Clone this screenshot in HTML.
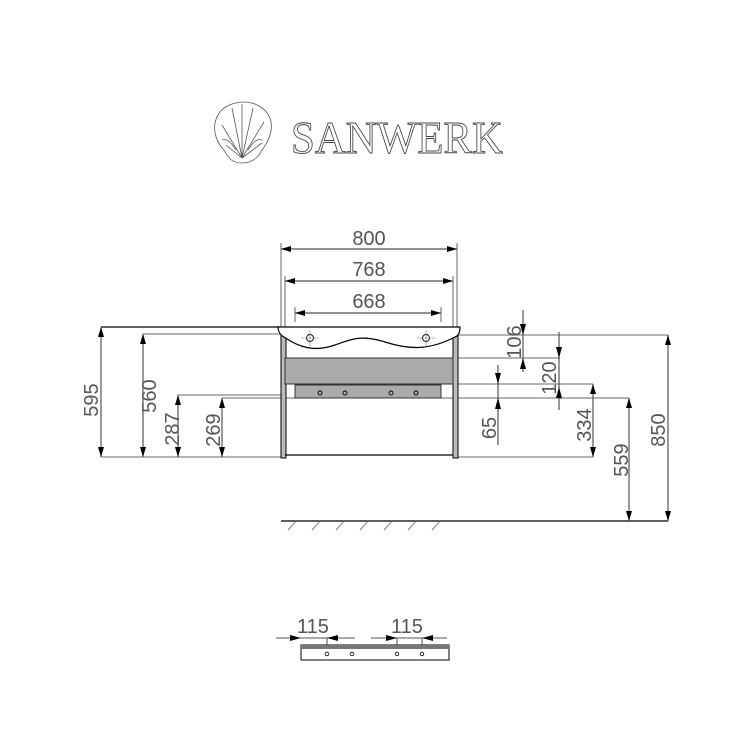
<!DOCTYPE html>
<html><head><style>body{margin:0;background:#fff}svg{display:block}</style></head><body>
<svg width="750" height="750" viewBox="0 0 750 750" xmlns="http://www.w3.org/2000/svg" font-family="Liberation Sans, sans-serif">
<defs>
<marker id="a" viewBox="0 0 10 6" refX="10" refY="3" markerWidth="10" markerHeight="6" orient="auto-start-reverse" markerUnits="userSpaceOnUse"><path d="M0,0 L10,3 L0,6z" fill="#000"/></marker>
</defs>
<!-- logo -->
<g fill="none" stroke="#555" stroke-width="0.8">
<path d="M242,163 C232,163 228,158 224,150 C214,140 212,125 218,115 C224,104 238,102 244,102 C252,102 265,106 270,118 C274,130 268,142 262,150 C258,158 252,163 242,163z"/>
<path d="M242,158 L226,145 M242,158 L222,125 M242,158 L232,108 M242,158 L242,104 M242,158 L253,108 M242,158 L264,122 M242,158 L262,143"/>
<path d="M222,140 C228,138 232,144 236,150 M262,140 C256,138 252,144 248,150"/>
</g>
<text x="291" y="153" font-family="Liberation Serif, serif" font-size="46" fill="#fff" stroke="#444" stroke-width="0.9" textLength="212" lengthAdjust="spacingAndGlyphs">SANWERK</text>

<g stroke="#888" stroke-width="1.3" fill="none">
<line x1="281" y1="243" x2="281" y2="327"/><line x1="457" y1="243" x2="457" y2="327"/>
<line x1="285" y1="276" x2="285" y2="327"/><line x1="453" y1="276" x2="453" y2="327"/>
<line x1="295" y1="307" x2="295" y2="322"/><line x1="441" y1="307" x2="441" y2="322"/>
<line x1="143" y1="334" x2="280" y2="334"/>
<line x1="178" y1="395" x2="281" y2="395"/>
<line x1="222" y1="398" x2="295" y2="398"/>
<line x1="101" y1="457" x2="283" y2="457"/>
<line x1="457" y1="335" x2="668" y2="335"/>
<line x1="453" y1="358" x2="560" y2="358"/>
<line x1="453" y1="384" x2="593" y2="384"/>
<line x1="441" y1="398" x2="629" y2="398"/>
<line x1="457" y1="457" x2="593" y2="457"/>
</g>
<line x1="101" y1="327" x2="280" y2="327" stroke="#000" stroke-width="1.3"/>
<line x1="281" y1="521" x2="668" y2="521" stroke="#000" stroke-width="1.2"/>
<g stroke="#666" stroke-width="0.9">
<line x1="288" y1="530" x2="296" y2="521"/><line x1="312" y1="530" x2="320" y2="521"/><line x1="336" y1="530" x2="344" y2="521"/><line x1="360" y1="530" x2="368" y2="521"/><line x1="384" y1="530" x2="392" y2="521"/><line x1="408" y1="530" x2="416" y2="521"/><line x1="432" y1="530" x2="440" y2="521"/>
</g>

<g stroke="#555" stroke-width="1.2" marker-start="url(#a)" marker-end="url(#a)">
<line x1="281" y1="249" x2="457" y2="249"/>
<line x1="285" y1="281" x2="453" y2="281"/>
<line x1="295" y1="313" x2="441" y2="313"/>
<line x1="101" y1="327" x2="101" y2="457"/>
<line x1="143" y1="334" x2="143" y2="457"/>
<line x1="178" y1="395" x2="178" y2="457"/>
<line x1="222" y1="398" x2="222" y2="457"/>
<line x1="593" y1="384" x2="593" y2="457"/>
<line x1="629" y1="398" x2="629" y2="521"/>
<line x1="668" y1="335" x2="668" y2="521"/>
</g>
<g stroke="#555" stroke-width="1.2">
<line x1="523" y1="310" x2="523" y2="372"/>
<line x1="559" y1="332" x2="559" y2="410"/>
<line x1="498" y1="365" x2="498" y2="445"/>
</g>
<g fill="#000">
<path d="M520,324 L526,324 L523,335z"/><path d="M520,369 L526,369 L523,358z"/>
<path d="M556,347 L562,347 L559,358z"/><path d="M556,398 L562,398 L559,387z"/>
<path d="M495,373 L501,373 L498,384z"/><path d="M495,409 L501,409 L498,398z"/>
</g>

<g font-size="20" fill="#555" text-anchor="middle">
<text x="369" y="245">800</text>
<text x="369" y="276">768</text>
<text x="369" y="308">668</text>
<text transform="translate(98,400) rotate(-90)">595</text>
<text transform="translate(156,396) rotate(-90)">560</text>
<text transform="translate(179,429) rotate(-90)">287</text>
<text transform="translate(220,430) rotate(-90)">269</text>
<text transform="translate(521,342) rotate(-90)">106</text>
<text transform="translate(556,378) rotate(-90)">120</text>
<text transform="translate(496,428) rotate(-90)">65</text>
<text transform="translate(591,425) rotate(-90)">334</text>
<text transform="translate(628,460) rotate(-90)">559</text>
<text transform="translate(665,430) rotate(-90)">850</text>
<text x="313" y="633">115</text>
<text x="407" y="633">115</text>
</g>

<rect x="281" y="335" width="5" height="123" fill="#bbb" stroke="#000" stroke-width="1"/>
<rect x="453" y="335" width="5" height="123" fill="#bbb" stroke="#000" stroke-width="1"/>
<rect x="285" y="358" width="168" height="26" fill="#aaa" stroke="#333" stroke-width="1"/>
<rect x="295" y="385" width="146" height="13" fill="#aaa" stroke="#333" stroke-width="1"/>
<line x1="285" y1="455" x2="453" y2="455" stroke="#000" stroke-width="1.3"/>
<path d="M278,327 L460,327 C460,333 458,336 455,337 C430,350 410,350 385,342 C360,334 350,340 335,345 C315,352 300,348 284,337 C280,335 278,331 278,327z" fill="#fff" stroke="#000" stroke-width="1.2"/>
<g fill="none" stroke="#000" stroke-width="0.9">
<circle cx="310" cy="338" r="3.5"/><circle cx="426" cy="338" r="3.5"/>
</g>
<g stroke="#777" stroke-width="0.6">
<line x1="301" y1="338" x2="319" y2="338"/><line x1="310" y1="330" x2="310" y2="346"/>
<line x1="417" y1="338" x2="435" y2="338"/><line x1="426" y1="330" x2="426" y2="346"/>
</g>
<g fill="none" stroke="#000" stroke-width="0.9">
<circle cx="320" cy="393" r="2"/><circle cx="345" cy="393" r="2"/><circle cx="391" cy="393" r="2"/><circle cx="416" cy="393" r="2"/>
</g>

<g stroke="#555" stroke-width="1">
<line x1="276" y1="638" x2="355" y2="638"/><line x1="371" y1="638" x2="447" y2="638"/>
<line x1="327" y1="638" x2="327" y2="660"/><line x1="397" y1="638" x2="397" y2="660"/><line x1="422" y1="638" x2="422" y2="660"/>
</g>
<g fill="#000">
<path d="M290,635 L301,638 L290,641z"/><path d="M338,635 L327,638 L338,641z"/>
<path d="M386,635 L397,638 L386,641z"/><path d="M433,635 L422,638 L433,641z"/>
</g>
<rect x="301" y="645" width="148" height="15" fill="#fff" stroke="#000" stroke-width="1"/>
<rect x="301" y="645" width="148" height="4" fill="#777"/>
<g fill="none" stroke="#000" stroke-width="0.8">
<circle cx="327" cy="654" r="1.8"/><circle cx="352" cy="654" r="1.8"/><circle cx="397" cy="654" r="1.8"/><circle cx="422" cy="654" r="1.8"/>
</g>
</svg>
</body></html>
